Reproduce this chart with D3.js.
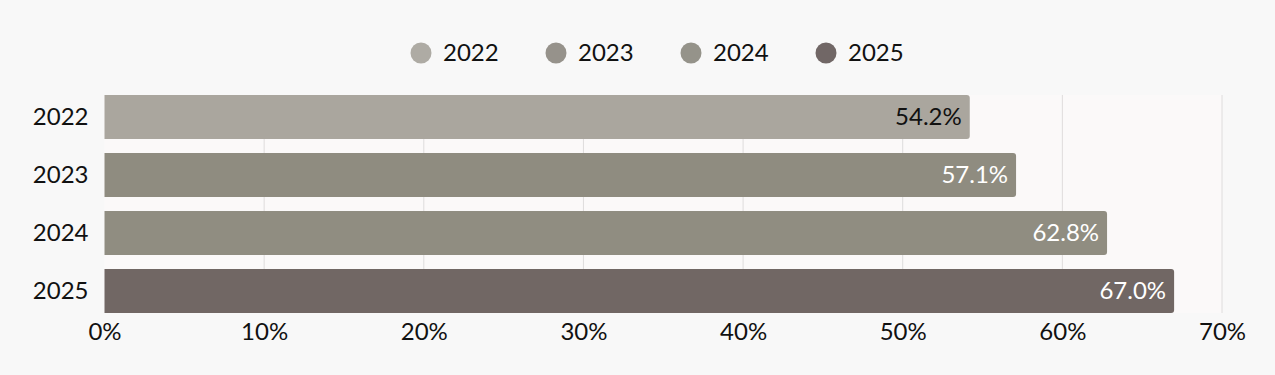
<!DOCTYPE html>
<html>
<head>
<meta charset="utf-8">
<script src="https://cdn.jsdelivr.net/npm/d3@7"></script>
<style>
  html, body { margin: 0; padding: 0; background: #f8f8f8; }
  svg { display: block; font-family: "Lato", "Noto Sans", sans-serif; }
</style>
</head>
<body>
<script>
const width = 1275;
const height = 375;

const years = ["2022", "2023", "2024", "2025"];
const values = [54.2, 57.1, 62.8, 67.0];
const barColors = ["#aaa69e", "#8f8c80", "#908d81", "#716764"];
const dotColors = ["#aeaba4", "#96928b", "#95938a", "#716766"];
const labelColors = ["#111111", "#ffffff", "#ffffff", "#ffffff"];
const xTicks = [0, 10, 20, 30, 40, 50, 60, 70];

const margin = { top: 88, right: 53, bottom: 55, left: 104.5 };
const fontSize = 24;

const svg = d3.select("body").append("svg")
  .attr("width", width)
  .attr("height", height);

svg.append("rect").attr("width", width).attr("height", height).attr("fill", "#f8f8f8");

const x = d3.scaleLinear().domain([0, 70]).range([margin.left, width - margin.right]);
const y = d3.scaleBand().domain(years).range([margin.top, height - margin.bottom]).paddingInner(0.24).paddingOuter(0.12);

// plot background
svg.append("rect")
  .attr("x", x(0)).attr("y", y(years[0]))
  .attr("width", x(70) - x(0))
  .attr("height", y(years[3]) + y.bandwidth() - y(years[0]))
  .attr("fill", "#fbf9f9");

// gridlines
svg.append("g")
  .selectAll("line")
  .data(xTicks.slice(1))
  .join("line")
  .attr("x1", d => x(d)).attr("x2", d => x(d))
  .attr("y1", y(years[0])).attr("y2", y(years[3]) + y.bandwidth())
  .attr("stroke", "#dedcdc")
  .attr("stroke-width", 1);

// bars with rounded right end only
const r = 3;
function barPath(x0, x1, y0, h) {
  return `M${x0},${y0}H${x1 - r}Q${x1},${y0} ${x1},${y0 + r}V${y0 + h - r}Q${x1},${y0 + h} ${x1 - r},${y0 + h}H${x0}Z`;
}

svg.append("g")
  .selectAll("path")
  .data(years)
  .join("path")
  .attr("d", (d, i) => barPath(x(0), x(values[i]), y(d), y.bandwidth()))
  .attr("fill", (d, i) => barColors[i]);

// value labels
svg.append("g")
  .selectAll("text")
  .data(years)
  .join("text")
  .attr("x", (d, i) => x(values[i]) - 8)
  .attr("y", d => y(d) + y.bandwidth() / 2)
  .attr("dy", "0.35em")
  .attr("text-anchor", "end")
  .attr("font-size", fontSize)
  .attr("fill", (d, i) => labelColors[i])
  .text((d, i) => values[i].toFixed(1) + "%");

// y axis labels
const yAxis = svg.append("g")
  .attr("transform", `translate(${x(0)},0)`)
  .call(d3.axisLeft(y).tickSize(0).tickPadding(16));
yAxis.select(".domain").remove();
yAxis.selectAll("text").attr("font-size", fontSize).attr("fill", "#111").attr("font-family", "Lato, 'Noto Sans', sans-serif");

// x axis labels
const xAxis = svg.append("g")
  .attr("transform", `translate(0,${y(years[3]) + y.bandwidth()})`)
  .call(d3.axisBottom(x).tickValues(xTicks).tickFormat(d => d + "%").tickSize(0).tickPadding(10));
xAxis.select(".domain").remove();
xAxis.selectAll("text").attr("font-size", fontSize).attr("fill", "#111").attr("font-family", "Lato, 'Noto Sans', sans-serif");

// legend
const legend = svg.append("g").attr("transform", "translate(421,53)");
const item = legend.selectAll("g")
  .data(years)
  .join("g")
  .attr("transform", (d, i) => `translate(${i * 135},0)`);
item.append("circle").attr("r", 10.5).attr("fill", (d, i) => dotColors[i]);
item.append("text")
  .attr("x", 22).attr("dy", "0.35em")
  .attr("font-size", fontSize).attr("fill", "#111")
  .text(d => d);
</script>
</body>
</html>
